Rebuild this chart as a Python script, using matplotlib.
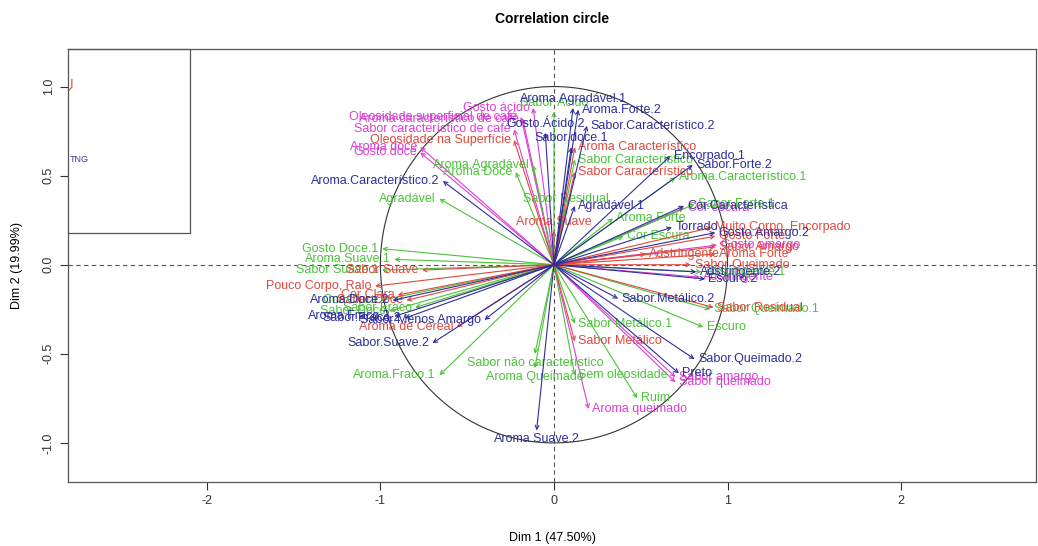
# circulo de correlacoes (PCA) - refeito em matplotlib
import numpy as np
import matplotlib
matplotlib.use("Agg")
import matplotlib.pyplot as plt

plt.rcParams['font.family'] = ['Liberation Sans', 'DejaVu Sans']
plt.rcParams['axes.unicode_minus'] = False

fs_lab = 9   # rozmiar etykiet zmiennych
fs_tick = 9

titulo = 'Correlation circle'
eixo_x = 'Dim 1 (47.50%)'
eixo_y = 'Dim 2 (19.99%)'

cores = {'G': '#4cc23a', 'R': '#e0483e', 'B': '#2e2e9e', 'M': '#dc3fd6'}

# ---------------------------------------------------------- magenta
lab_m = ['Gosto ácido', 'Aroma característico de café', 'Oleosidade superficial de café',
         'Sabor característico de café', 'Aroma doce', 'Gosto.doce', 'Sabor amargo',
         'Sabor queimado', 'Aroma queimado', 'Cor escura', 'Gosto amargo', 'Adstringente']
x_m = [-0.12, -0.18, -0.19, -0.23, -0.77, -0.77, 0.70, 0.70, 0.20, 0.75, 0.94, 0.84]
y_m = [0.88, 0.82, 0.83, 0.76, 0.66, 0.63, -0.63, -0.66, -0.81, 0.32, 0.11, -0.07]

# ---------------------------------------------------------- verde
lab_g = ['Sabor Ácido', 'Aroma.Agradável', 'Aroma Doce', 'Agradável', 'Sabor Residual',
         'Sabor Característico', 'Aroma.Característico.1', 'Sabor Forte.1', 'Aroma Forte',
         'Cor Escura', 'Adstringente.1', 'Sabor Queimado.1', 'Escuro', 'Sabor Metálico.1',
         'Sabor não característico', 'Aroma Queimado', 'Sem oleosidade', 'Ruim',
         'Aroma.Fraco.1', 'Gosto Doce.1', 'Aroma.Suave.1', 'Sabor Suave.1', 'Cor Clara',
         'Sabor Doce', 'Sabor Fraco']
x_g = [0.00, -0.12, -0.22, -0.66, 0.07, 0.12, 0.70, 0.81, 0.34, 0.40, 0.85, 0.90, 0.86,
       0.12, -0.11, -0.11, 0.12, 0.48, -0.66, -0.99, -0.92, -0.99, -1.00, -0.95, -0.80]
y_g = [0.86, 0.56, 0.52, 0.37, 0.32, 0.59, 0.49, 0.34, 0.26, 0.16, -0.04, -0.25, -0.35,
       -0.33, -0.50, -0.58, -0.62, -0.75, -0.62, 0.09, 0.03, -0.03, -0.20, -0.26, -0.24]

# ---------------------------------------------------------- vermelho
lab_r = ['Oleosidade na Superfície', 'Aroma Suave', 'Aroma Característico',
         'Sabor Característico', 'Muito Corpo, Encorpado', 'Gosto Forte', 'Sabor Amargo',
         'Adstringente', 'Aroma Forte', 'Sabor Queimado', 'Sabor Residual', 'Sabor Metálico',
         'Sabor Suave', 'Pouco Corpo, Ralo', 'Cor Clara', 'Sabor Doce', 'Aroma de Cereal']
x_r = [-0.23, 0.00, 0.12, 0.12, 0.91, 0.93, 0.93, 0.53, 0.93, 0.79, 0.92, 0.12,
       -0.76, -1.03, -0.90, -0.85, -0.56]
y_r = [0.70, 0.19, 0.66, 0.52, 0.21, 0.16, 0.10, 0.06, 0.06, 0.00, -0.24, -0.43,
       -0.03, -0.12, -0.17, -0.20, -0.35]

# ---------------------------------------------------------- azul
lab_b = ['Aroma.Agradável.1', 'Aroma.Forte.2', 'Gosto.Ácido.2', 'Sabor.Característico.2',
         'Sabor.doce.1', 'Encorpado.1', 'Sabor.Forte.2', 'Aroma.Característico.2',
         'Agradável.1', 'Cor.Característica', 'Torrado', 'Gosto.Amargo.2', 'Adstringente.2',
         'Escuro.2', 'Sabor.Metálico.2', 'Sabor.Queimado.2', 'Preto', 'Aroma.Suave.2',
         'Sabor.Suave.2', 'Sabor Menos Amargo', 'Aroma.Doce.2', 'Sabor.Fraco.2',
         'Aroma.Fraco.2']
x_b = [0.11, 0.14, -0.05, 0.19, 0.10, 0.67, 0.80, -0.64, 0.12, 0.75, 0.68, 0.93, 0.82,
       0.87, 0.37, 0.81, 0.72, -0.10, -0.70, -0.40, -0.93, -0.86, -0.92]
y_b = [0.88, 0.87, 0.74, 0.78, 0.66, 0.61, 0.56, 0.47, 0.33, 0.33, 0.21, 0.18, -0.04,
       -0.08, -0.19, -0.53, -0.61, -0.93, -0.44, -0.31, -0.20, -0.30, -0.29]

grupos = [('M', lab_m, x_m, y_m), ('G', lab_g, x_g, y_g),
          ('R', lab_r, x_r, y_r), ('B', lab_b, x_b, y_b)]

fig = plt.figure(figsize=(10.38, 5.46), dpi=100)
ax = fig.add_axes([0.0655, 0.117, 0.933, 0.793])
ax.set_xlim(-2.80, 2.78)
ax.set_ylim(-1.22, 1.21)

# linhas de referencia e circulo
ax.axhline(0, color='#555555', lw=0.8, ls=(0, (4, 3)))
ax.axvline(0, color='#555555', lw=0.8, ls=(0, (4, 3)))
t = np.linspace(0, 2 * np.pi, 400)
ax.plot(np.cos(t), np.sin(t), color='#333333', lw=0.8)

for g, labs, xs, ys in grupos:
    c = cores[g]
    for lab, x, y in zip(labs, xs, ys):
        ax.annotate('', xy=(x, y), xytext=(0, 0),
                    arrowprops=dict(arrowstyle='->', color=c, lw=0.8,
                                    shrinkA=0, shrinkB=0, mutation_scale=7))
        if abs(x) < 0.12:
            va = 'bottom' if y > 0 else 'top'
            off = (0, 2 if y > 0 else -2)
            ax.annotate(lab, xy=(x, y), xytext=off, textcoords='offset points',
                        ha='center', va=va, color=c, fontsize=fs_lab)
        else:
            ha = 'left' if x > 0 else 'right'
            off = (2.5 if x > 0 else -2.5, 0)
            ax.annotate(lab, xy=(x, y), xytext=off, textcoords='offset points',
                        ha=ha, va='center', color=c, fontsize=fs_lab)

# caixa da legenda cortada no canto
ax.plot([0, 0.1255, 0.1255, 0], [1, 1, 0.575, 0.575], transform=ax.transAxes,
        color='#555555', lw=0.9, clip_on=False)
ax.text(0.002, 0.745, 'TNG', transform=ax.transAxes, color='#3a3aa8', fontsize=6.5,
        va='center')
ax.plot([0.001, 0.004, 0.004], [0.905, 0.912, 0.93], transform=ax.transAxes,
        color='#e04040', lw=0.8)

ax.set_xticks([-2, -1, 0, 1, 2])
ax.set_yticks([-1.0, -0.5, 0.0, 0.5, 1.0])
ax.set_yticklabels(['-1.0', '-0.5', '0.0', '0.5', '1.0'], rotation=90, va='center')
ax.tick_params(direction='out', length=6, width=0.8, labelsize=fs_tick, colors='#333333')
for s in ax.spines.values():
    s.set_color('#555555')
    s.set_linewidth(0.9)

ax.set_title(titulo, fontsize=10, fontweight='bold', pad=19)
ax.set_xlabel(eixo_x, fontsize=fs_tick, labelpad=18)
ax.set_ylabel(eixo_y, fontsize=fs_tick, labelpad=14)

fig.savefig('out.png', dpi=100)
